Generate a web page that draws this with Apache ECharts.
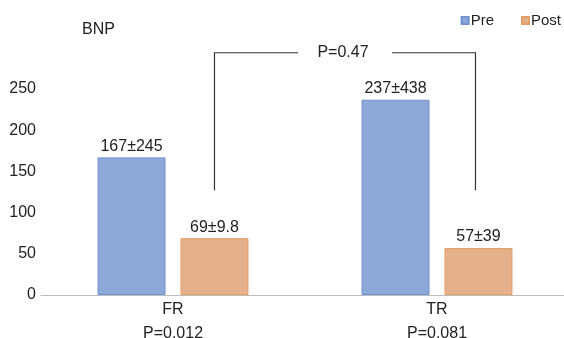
<!DOCTYPE html>
<html>
<head>
<meta charset="utf-8">
<script src="https://cdn.jsdelivr.net/npm/echarts@6/dist/echarts.min.js"></script>
<style>
html,body{margin:0;padding:0;background:#fff;}
#chart{width:564px;height:338px;}
</style>
</head>
<body>
<div id="chart"></div>
<script>
// ---- data ----
const categories = ['FR', 'TR'];
const preValues = [167, 237];
const postValues = [69, 57];
const preLabels = ['167±245', '237±438'];
const postLabels = ['69±9.8', '57±39'];
const groupP = ['P=0.012', 'P=0.081'];
const yTicks = [0, 50, 100, 150, 200, 250];
const betweenP = 'P=0.47';
const bracketTop = 294;
const bracketBottom = 127;

// ---- style ----
const FONT = '"Liberation Sans", Arial, Helvetica, sans-serif';
const FS = 16;
const BAR_W = 68;
const BAR_GAP = 0.22;
const preColor = '#8ea8d8', preBorder = '#7092d0';
const postColor = '#e5b18a', postBorder = '#e39e68';

const chart = echarts.init(document.getElementById('chart'));

const option = {
  animation: false,
  backgroundColor: '#fff',
  textStyle: { fontFamily: FONT },
  title: {
    text: 'BNP', left: 82, top: 22, padding: 0,
    textStyle: { fontFamily: FONT, fontSize: FS, fontWeight: 'normal', color: '#222' }
  },
  legend: {
    data: ['Pre', 'Post'],
    right: 3, top: 13, padding: 0,
    icon: 'rect', itemWidth: 7, itemHeight: 7, itemGap: 27,
    textStyle: { fontFamily: FONT, fontSize: 15, color: '#222', padding: [0, 0, 0, -3] }
  },
  grid: { left: 41, right: -5, top: 89, bottom: 43, outerBoundsMode: 'none', containLabel: false },
  xAxis: {
    type: 'category',
    data: categories,
    axisLine: { lineStyle: { color: '#bdbdbd', width: 1 } },
    axisTick: { show: false },
    axisLabel: {
      margin: 3,
      formatter: function (v, i) { return '{a|' + v + '}\n{b|' + groupP[i] + '}'; },
      rich: {
        a: { fontFamily: FONT, fontSize: FS, color: '#222', lineHeight: 24 },
        b: { fontFamily: FONT, fontSize: FS, color: '#222', lineHeight: 24 }
      }
    }
  },
  yAxis: {
    type: 'value',
    min: yTicks[0], max: yTicks[yTicks.length - 1], interval: 50,
    axisLine: { show: false },
    axisTick: { show: false },
    splitLine: { show: false },
    axisLabel: { margin: 5, fontFamily: FONT, fontSize: FS, color: '#222' }
  },
  series: [
    {
      name: 'Pre', type: 'bar', data: preValues,
      barWidth: BAR_W, barGap: (BAR_GAP * 100) + '%',
      itemStyle: { color: preColor, borderColor: preBorder, borderWidth: 1 },
      label: {
        show: true, position: 'top', distance: 3,
        fontFamily: FONT, fontSize: FS, color: '#222',
        formatter: function (p) { return preLabels[p.dataIndex]; }
      }
    },
    {
      name: 'Post', type: 'bar', data: postValues,
      barWidth: BAR_W,
      itemStyle: { color: postColor, borderColor: postBorder, borderWidth: 1 },
      label: {
        show: true, position: 'top', distance: 3,
        fontFamily: FONT, fontSize: FS, color: '#222',
        formatter: function (p) { return postLabels[p.dataIndex]; }
      }
    },
    {
      name: 'bracket', type: 'custom', silent: true, clip: false,
      data: [[0, bracketTop]],
      renderItem: function (params, api) {
        const off = (BAR_W + BAR_W * BAR_GAP) / 2;
        const a = api.coord([0, bracketTop]);
        const b = api.coord([1, bracketTop]);
        const ab = api.coord([0, bracketBottom]);
        const x1 = a[0] + off, x2 = b[0] + off - 3;
        const yT = a[1], yB = ab[1];
        const mid = (x1 + x2) / 2;
        const half = 47;
        const ls = { stroke: '#333', lineWidth: 1.2, fill: null };
        return {
          type: 'group',
          children: [
            { type: 'polyline', shape: { points: [[x1, yB], [x1, yT], [mid - half, yT]] }, style: ls },
            { type: 'polyline', shape: { points: [[mid + half, yT], [x2, yT], [x2, yB]] }, style: ls },
            { type: 'text', style: { text: betweenP, x: mid - 2, y: yT, align: 'center', verticalAlign: 'middle',
              font: FS + 'px ' + FONT, fill: '#222' } }
          ]
        };
      }
    }
  ]
};
chart.setOption(option);
</script>
</body>
</html>
